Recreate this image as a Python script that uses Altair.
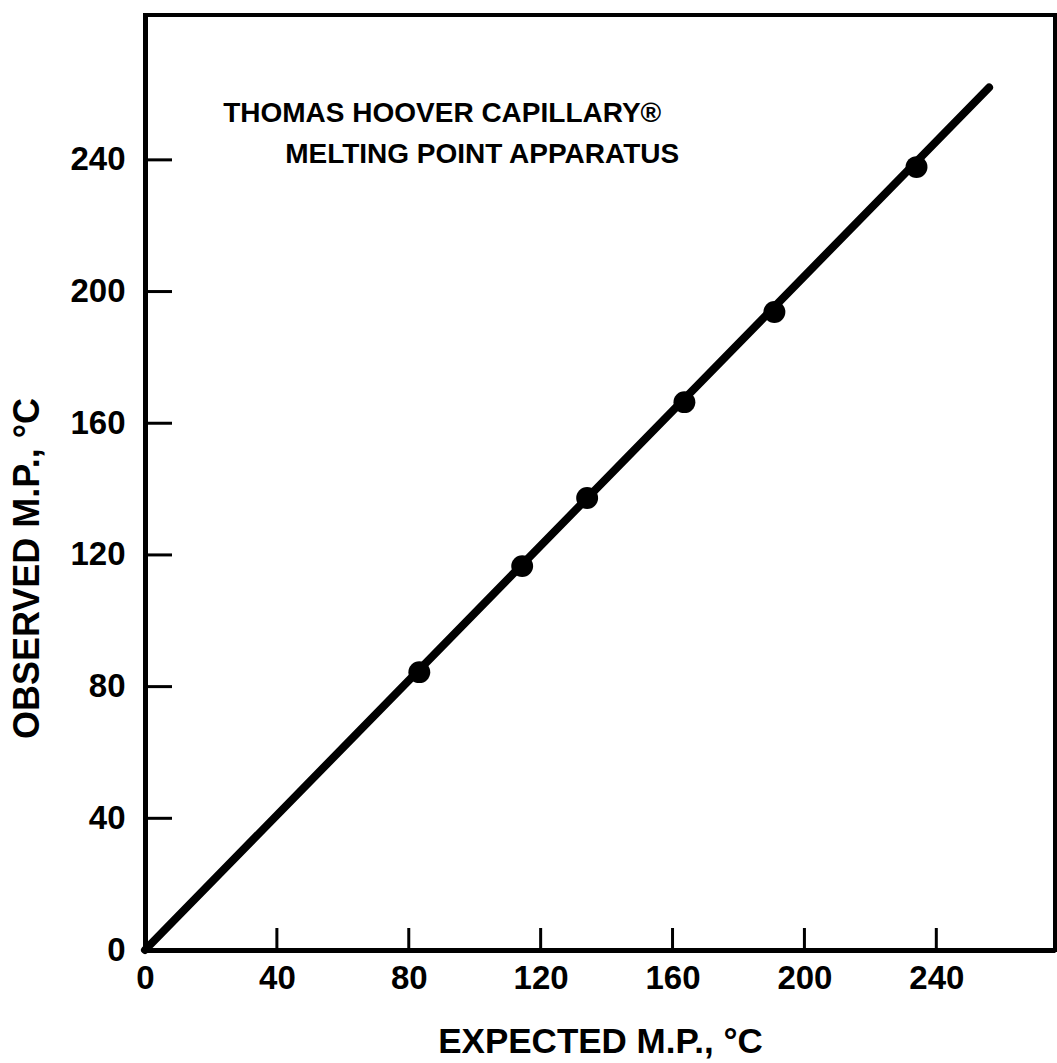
import altair as alt
import pandas as pd

# ---- data ----
expected = [83.2, 114.4, 134.1, 163.6, 190.9, 234.0]
observed = [84.4, 116.6, 137.3, 166.4, 193.8, 237.8]
line_x = [0, 256]
line_y = [0, 262]
x_ticks = [0, 40, 80, 120, 160, 200, 240]
y_ticks = [0, 40, 80, 120, 160, 200, 240]
x_domain = [0, 276]
y_domain = [0, 284]
note_lines = ["THOMAS HOOVER CAPILLARY®", "MELTING POINT APPARATUS"]
note_x = [23.7, 42.5]
note_y = [254.0, 241.5]

W, H = 910, 935
FONT = "Liberation Sans"

xs = alt.Scale(domain=x_domain, nice=False, zero=False)
ys = alt.Scale(domain=y_domain, nice=False, zero=False)

pts = pd.DataFrame({"x": expected, "y": observed})
ln = pd.DataFrame({"x": line_x, "y": line_y})
xt = pd.DataFrame({"t": x_ticks[1:]})
yt = pd.DataFrame({"t": y_ticks[1:]})
notes = pd.DataFrame({"x": note_x, "y": note_y, "text": note_lines})

xaxis = alt.Axis(
    values=x_ticks, format="d", ticks=False, grid=False,
    domainWidth=5, domainColor="black",
    labelFont=FONT, labelFontSize=33, labelFontWeight="bold", labelColor="black",
    labelPadding=12, labelFlush=False, labelOverlap=False,
    title="EXPECTED M.P., °C", titleFont=FONT, titleFontSize=35,
    titleFontWeight="bold", titleColor="black",
    titleBaseline="alphabetic", titleY=102,
)
yaxis = alt.Axis(
    values=y_ticks, format="d", ticks=False, grid=False,
    domainWidth=5, domainColor="black",
    labelFont=FONT, labelFontSize=33, labelFontWeight="bold", labelColor="black",
    labelPadding=20, labelFlush=False, labelOverlap=False,
    title="OBSERVED M.P., °C", titleFont=FONT, titleFontSize=36,
    titleFontWeight="bold", titleColor="black",
    titleBaseline="middle", titleAlign="center", titleAngle=-90,
    titleX=-118, titleY=553,
)

line = alt.Chart(ln).mark_line(color="black", strokeWidth=8, strokeCap="round").encode(
    x=alt.X("x:Q", scale=xs, axis=xaxis),
    y=alt.Y("y:Q", scale=ys, axis=yaxis),
)
points = alt.Chart(pts).mark_circle(color="black", opacity=1, size=480).encode(
    x=alt.X("x:Q", scale=xs),
    y=alt.Y("y:Q", scale=ys),
)
xtick = alt.Chart(xt).mark_rule(color="black", strokeWidth=3).encode(
    x=alt.X("t:Q", scale=xs),
    y=alt.value(H),
    y2=alt.value(H - 22),
)
ytick = alt.Chart(yt).mark_rule(color="black", strokeWidth=3).encode(
    y=alt.Y("t:Q", scale=ys),
    x=alt.value(0),
    x2=alt.value(27),
)
text = alt.Chart(notes).mark_text(
    font=FONT, fontSize=28, fontWeight="bold", color="black",
    align="left", baseline="middle",
).encode(
    x=alt.X("x:Q", scale=xs),
    y=alt.Y("y:Q", scale=ys),
    text="text:N",
)

chart = alt.layer(line, xtick, ytick, points, text).properties(
    width=W, height=H,
    autosize=alt.AutoSizeParams(type="none"),
    padding={"left": 145, "top": 15, "right": 2, "bottom": 113},
    background="white",
).configure_view(
    stroke="black", strokeWidth=4,
)

chart.save("out.html", embed_options={"renderer": "svg", "actions": False})
